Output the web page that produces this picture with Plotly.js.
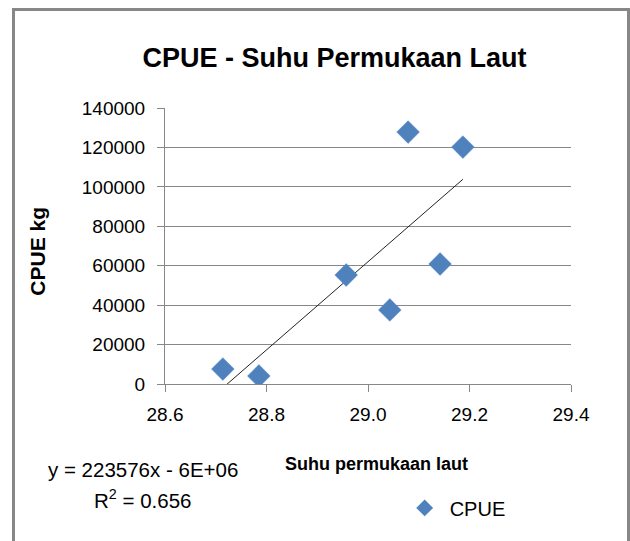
<!DOCTYPE html>
<html>
<head>
<meta charset="utf-8">
<script src="https://cdn.plot.ly/plotly-3.0.1.min.js"></script>
<style>
  html, body { margin: 0; padding: 0; background: #fff; }
  #wrap { position: relative; width: 630px; height: 541px; overflow: hidden; }
  #chart { position: absolute; left: 0; top: 0; width: 630px; height: 541px; }
  #frame { position: absolute; left: 12px; top: 8px; width: 612px; height: 600px;
           border: 3px solid #878787; pointer-events: none; }
</style>
</head>
<body>
<div id="wrap">
  <div id="chart"></div>
  <div id="frame"></div>
</div>
<script>
// Data
const seriesName = "CPUE";
const sstValues = [28.714, 28.785, 28.957, 29.043, 29.079, 29.142, 29.187];   // Suhu permukaan laut (°C)
const cpueValues = [7600, 4060, 55290, 37540, 127800, 60870, 120200];           // CPUE kg
const xTickVals = [28.6, 28.8, 29.0, 29.2, 29.4];
const yTickVals = [0, 20000, 40000, 60000, 80000, 100000, 120000, 140000];
const equationText = "y = 223576x - 6E+06";
const r2Text = "R<sup>2</sup> = 0.656";

// Linear least-squares trendline computed from the data
const n = sstValues.length;
const mx = sstValues.reduce((a, b) => a + b, 0) / n;
const my = cpueValues.reduce((a, b) => a + b, 0) / n;
let sxy = 0, sxx = 0;
for (let i = 0; i < n; i++) {
  sxy += (sstValues[i] - mx) * (cpueValues[i] - my);
  sxx += (sstValues[i] - mx) ** 2;
}
const slope = sxy / sxx;
const intercept = my - slope * mx;
const xMin = Math.min(...sstValues), xMax = Math.max(...sstValues);
const trendX = [xMin, xMax];
const trendY = trendX.map(x => slope * x + intercept);

const blue = "#4F81BD";
const gray = "#878787";
const FONT = "Liberation Sans, Arial, sans-serif";

const traces = [
  {
    type: "scatter", mode: "lines", x: trendX, y: trendY,
    line: { color: "#222", width: 1 }, showlegend: false, hoverinfo: "skip"
  },
  {
    type: "scatter", mode: "markers", name: seriesName, x: sstValues, y: cpueValues,
    marker: { symbol: "diamond", size: 17.5, color: blue, line: { color: "#5b8ccc", width: 0.5 } },
    showlegend: false
  },
  {
    type: "scatter", mode: "markers", name: seriesName, x: [null], y: [null],
    marker: { symbol: "diamond", size: 13, color: blue }, showlegend: true
  }
];

const layout = {
  width: 630, height: 541,
  margin: { l: 165, r: 59, t: 108, b: 157 },
  paper_bgcolor: "#fff", plot_bgcolor: "#fff",
  font: { family: FONT, size: 19, color: "#000" },
  title: {
    text: "CPUE - Suhu Permukaan Laut",
    font: { family: FONT, size: 27, weight: "bold", color: "#000" },
    x: 0.531, xanchor: "center", y: 0.893, yanchor: "middle"
  },
  xaxis: {
    range: [28.6, 29.4], tickvals: xTickVals, tickformat: ".1f",
    showgrid: false, zeroline: false,
    showline: true, linecolor: gray, linewidth: 1,
    ticks: "outside", ticklen: 7, tickcolor: gray, tickwidth: 1,
    tickfont: { family: FONT, size: 19, color: "#000" },
    ticklabelstandoff: 6
  },
  yaxis: {
    range: [0, 140000], tickvals: yTickVals, tickformat: "d",
    showgrid: true, gridcolor: gray, gridwidth: 1, zeroline: false,
    showline: true, linecolor: gray, linewidth: 1,
    ticks: "outside", ticklen: 7, tickcolor: gray, tickwidth: 1,
    tickfont: { family: FONT, size: 19, color: "#000" },
    ticklabelstandoff: 8
  },
  legend: {
    x: 0.578, xanchor: "left", y: -0.449, yanchor: "middle",
    font: { family: FONT, size: 20, color: "#000" },
    bgcolor: "rgba(0,0,0,0)", itemwidth: 40
  },
  annotations: [
    {
      text: "<b>Suhu permukaan laut</b>", xref: "paper", yref: "paper",
      x: 0.29, y: -0.29, xanchor: "left", yanchor: "middle", showarrow: false,
      font: { family: FONT, size: 18, color: "#000" }
    },
    {
      text: "<b>CPUE kg</b>", xref: "paper", yref: "paper",
      x: -0.315, y: 0.48, xanchor: "center", yanchor: "middle", textangle: -90, showarrow: false,
      font: { family: FONT, size: 21, color: "#000" }
    },
    {
      text: equationText, xref: "paper", yref: "paper",
      x: -0.294, y: -0.31, xanchor: "left", yanchor: "middle", showarrow: false,
      font: { family: FONT, size: 20.5, color: "#000" }
    },
    {
      text: r2Text, xref: "paper", yref: "paper",
      x: -0.18, y: -0.415, xanchor: "left", yanchor: "middle", showarrow: false,
      font: { family: FONT, size: 20.5, color: "#000" }
    }
  ]
};

Plotly.newPlot("chart", traces, layout, { displayModeBar: false, staticPlot: true });
</script>
</body>
</html>
